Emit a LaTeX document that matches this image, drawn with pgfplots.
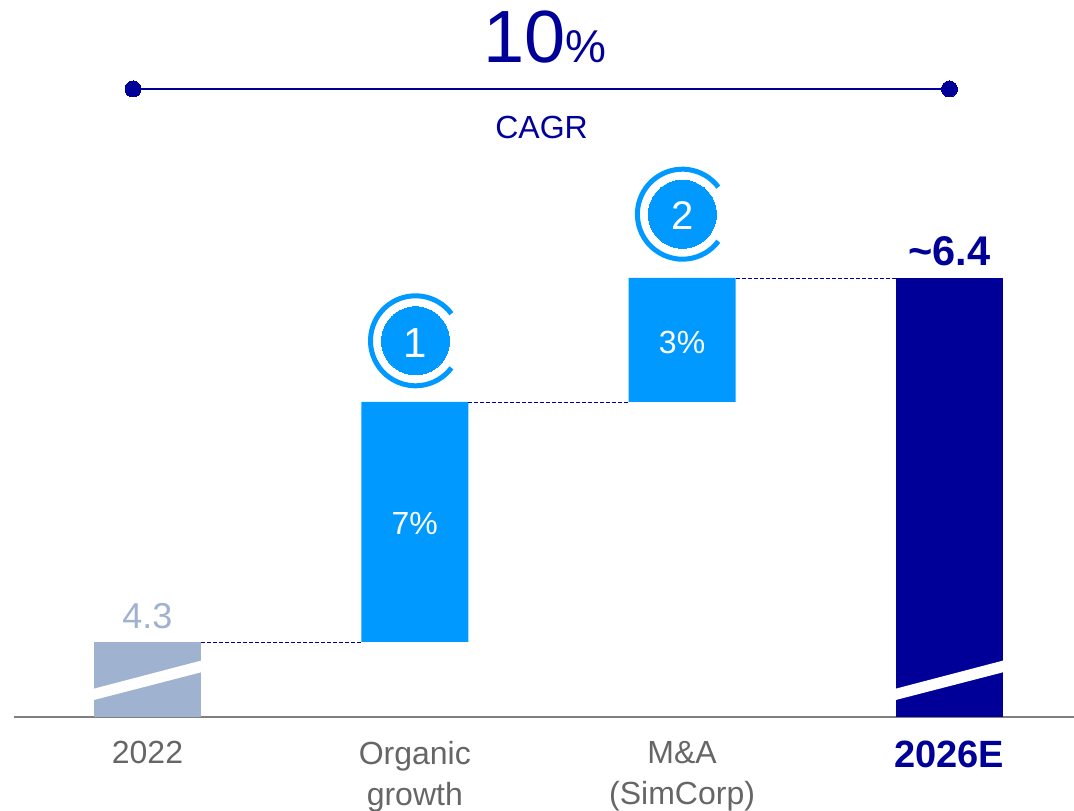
\documentclass[border=0pt]{standalone}
\usepackage{pgfplots}
\usepackage{pgfplotstable}
\usepackage{fontspec}
\setmainfont{Liberation Sans}
\pgfplotsset{compat=1.18}
\definecolor{navy}{HTML}{000099}
\definecolor{sky}{HTML}{0099FF}
\definecolor{muted}{HTML}{9FB2CF}
\definecolor{txtgray}{HTML}{666666}
\definecolor{axisgray}{HTML}{7F7F7F}
\newcommand{\fs}[1]{\fontsize{#1}{#1}\selectfont}

% base is the invisible part under the floating bars
\pgfplotstableread{
x base old step new
0 0     4.3 0     0
1 4.3   0   1.385 0
2 5.685 0   0.715 0
3 0     0   0     6.4
}\bars

\pgfdeclareplotmark{ring}{%
  \pgfpathmoveto{\pgfqpointpolar{37}{45pt}}%
  \pgfpatharc{37}{323}{45pt}%
  \pgfusepathqstroke}

\begin{document}
\begin{tikzpicture}
\useasboundingbox (-14pt,-94pt) rectangle (1060pt,717pt);
\begin{axis}[
  scale only axis,
  width=1060pt,
  height=717pt,
  xmin=-0.4994, xmax=3.4661,
  ymin=3.8668, ymax=8.0042,
  ybar stacked,
  reverse stacked plots=false,
  clip marker paths=true,
  bar width=107pt,
  axis x line=bottom,
  axis y line=none,
  axis line style={-,draw=axisgray,line width=1.6pt},
  xtick=data,
  xticklabels={
    {2022},
    {Organic\\growth},
    {M\&A\\(SimCorp)},
    {\color{navy}\bfseries\fs{38}2026E}},
  major tick length=0pt,
  xticklabel style={font=\fontsize{32}{41}\selectfont,text=txtgray,align=center,anchor=north,yshift=-24pt,inner sep=0pt},
  nodes={inner sep=0pt,anchor=base},
]
\addplot[fill=none,draw=none] table[x=x,y=base] {\bars};
\addplot[fill=muted,draw=none] table[x=x,y=old] {\bars};
\addplot[fill=sky,draw=none] table[x=x,y=step] {\bars};
\addplot[fill=navy,draw=none] table[x=x,y=new] {\bars};

% axis breaks
\addplot[sharp plot,stack plots=false,fill=white,draw=none] coordinates {(-0.205,4.0284) (0.205,4.1940) (0.205,4.1265) (-0.205,3.9631)} --cycle;
\addplot[sharp plot,stack plots=false,fill=white,draw=none] coordinates {(2.795,4.0284) (3.205,4.1940) (3.205,4.1265) (2.795,3.9631)} --cycle;

% connectors
\addplot[sharp plot,stack plots=false,no marks,navy,line width=0.7pt,dash pattern=on 4pt off 2pt] coordinates {(0.2,4.3) (0.8,4.3)};
\addplot[sharp plot,stack plots=false,no marks,navy,line width=0.7pt,dash pattern=on 4pt off 2pt] coordinates {(1.2,5.685) (1.8,5.685)};
\addplot[sharp plot,stack plots=false,no marks,navy,line width=0.7pt,dash pattern=on 4pt off 2pt] coordinates {(2.2,6.4) (2.8,6.4)};

% CAGR span
\addplot[sharp plot,stack plots=false,navy,line width=2.8pt,mark=*,mark size=8pt,mark options={line width=0pt}] coordinates {(-0.0542,7.4906) (3.0,7.4906)};

% numbered badges
\addplot[only marks,stack plots=false,mark=*,mark size=34pt,mark options={draw=sky,fill=sky,line width=0pt}] coordinates {(1.0026,6.0376) (2.0011,6.7681)};
\addplot[only marks,stack plots=false,mark=ring,mark options={draw=sky,line width=5pt}] coordinates {(1.0026,6.0376) (2.0011,6.7681)};

\node[text=navy] at (axis cs:1.487,7.6406) {\fs{74}10\fs{46}\%};
\node[text=navy,font=\fs{32}] at (axis cs:1.4744,7.2021) {CAGR};
\node[text=muted,font=\fs{36}] at (axis cs:0,4.3746) {4.3};
\node[text=white,font=\fs{32}] at (axis cs:1,4.92) {7\%};
\node[text=white,font=\fs{32}] at (axis cs:2,5.964) {3\%};
\node[text=navy,font=\bfseries\fs{41.5}] at (axis cs:3,6.47) {\textasciitilde 6.4};
\node[text=white,font=\fs{42}] at (axis cs:1.0026,5.9424) {1};
\node[text=white,font=\fs{40}] at (axis cs:2.0011,6.677) {2};
\end{axis}
\end{tikzpicture}
\end{document}
